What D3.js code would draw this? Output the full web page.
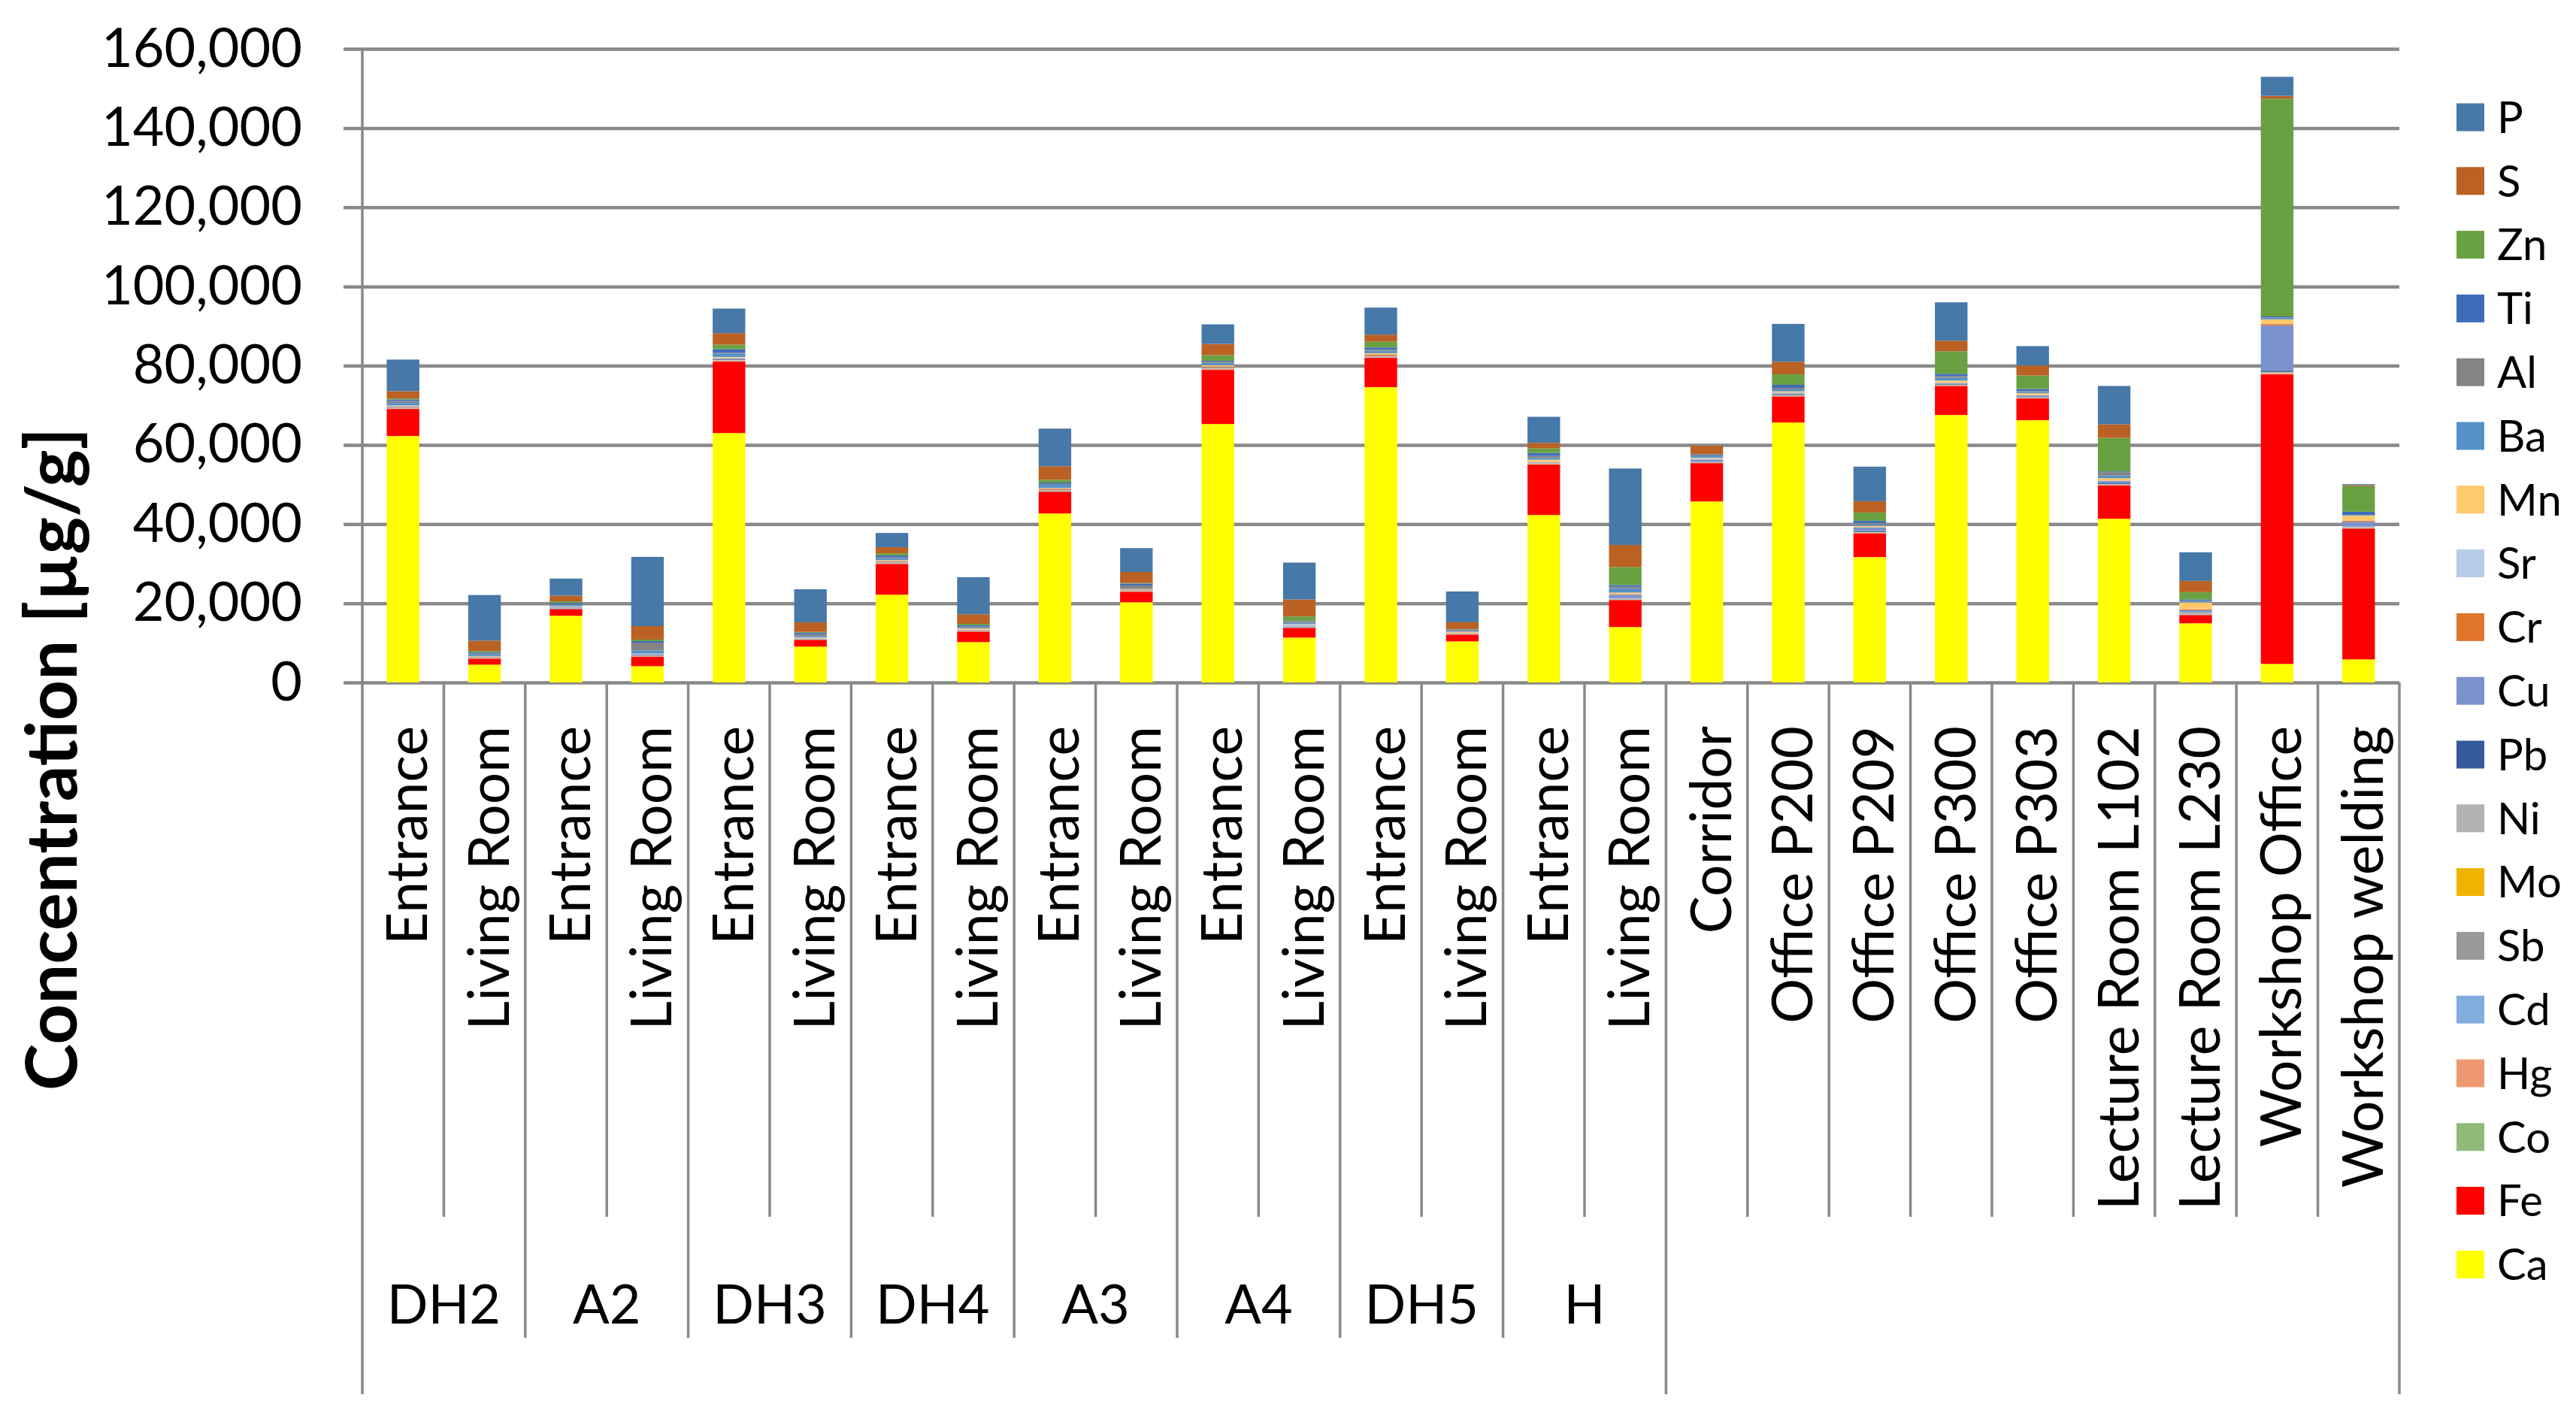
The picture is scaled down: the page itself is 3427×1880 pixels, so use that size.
<!DOCTYPE html>
<html>
<head>
<meta charset="utf-8">
<script src="https://cdn.jsdelivr.net/npm/d3@7"></script>
<style>
    body { margin: 0; background: #fff; }
    text { font-family: Lato, "Open Sans", sans-serif; fill: #000; }
</style>
</head>
<body>
<svg id="chart" width="3427" height="1880"></svg>
<script>
// sampling sites, in chart order
var sites = ["Entrance", "Living Room", "Entrance", "Living Room", "Entrance", "Living Room",
    "Entrance", "Living Room", "Entrance", "Living Room", "Entrance", "Living Room",
    "Entrance", "Living Room", "Entrance", "Living Room",
    "Corridor", "Office P200", "Office P209", "Office P300", "Office P303",
    "Lecture Room L102", "Lecture Room L230", "Workshop Office", "Workshop welding"];

// houses, each covers two sites (Entrance + Living Room)
var houses = ["DH2", "A2", "DH3", "DH4", "A3", "A4", "DH5", "H"];

var yTicks = [0, 20000, 40000, 60000, 80000, 100000, 120000, 140000, 160000];

// element concentrations [µg/g], one value per site
var Ca = [62220, 4494, 16838, 4115, 62984, 9052, 22155, 10191, 42664, 20256, 65262, 11331, 74567, 10381, 42284, 13989, 45703, 65642, 31650, 67541, 66212, 41335, 14939, 4684, 5824];
var Fe = [6840, 1520, 1709, 2405, 18040, 1709, 7786, 2659, 5507, 2659, 13673, 2469, 7407, 1709, 12724, 6837, 9685, 6583, 6014, 7343, 5507, 8419, 2089, 73112, 33042];
var Co = [60, 40, 40, 40, 80, 40, 60, 40, 60, 40, 60, 40, 60, 40, 60, 60, 60, 60, 60, 60, 60, 60, 60, 80, 60];
var Hg = [120, 60, 40, 60, 100, 40, 100, 120, 100, 60, 200, 60, 100, 60, 250, 60, 60, 80, 60, 80, 60, 80, 80, 253, 60];
var Cd = [40, 40, 150, 60, 60, 40, 60, 40, 60, 40, 60, 150, 60, 40, 60, 100, 60, 60, 60, 60, 60, 60, 100, 60, 60];
var Sb = [40, 40, 40, 60, 60, 40, 40, 40, 40, 40, 60, 40, 40, 40, 40, 80, 40, 40, 40, 40, 40, 40, 150, 100, 40];
var Mo = [20, 20, 20, 20, 40, 20, 40, 20, 40, 20, 40, 20, 40, 20, 40, 40, 40, 40, 40, 40, 40, 40, 40, 60, 40];
var Ni = [40, 40, 40, 40, 60, 40, 40, 40, 40, 40, 60, 40, 40, 40, 40, 80, 60, 60, 60, 60, 60, 60, 250, 60, 253];
var Pb = [40, 40, 40, 150, 150, 40, 40, 40, 40, 40, 60, 40, 40, 40, 40, 60, 60, 200, 253, 150, 60, 316, 60, 316, 60];
var Cu = [100, 100, 150, 150, 150, 60, 150, 60, 150, 60, 100, 100, 100, 60, 100, 823, 506, 200, 886, 160, 380, 443, 443, 11394, 1139];
var Cr = [180, 150, 60, 60, 100, 60, 200, 60, 250, 190, 150, 60, 380, 60, 60, 190, 60, 100, 60, 100, 60, 80, 253, 380, 253];
var Sr = [190, 60, 60, 60, 200, 190, 60, 60, 100, 60, 60, 316, 60, 40, 60, 60, 316, 200, 60, 100, 60, 80, 60, 60, 60];
var Mn = [60, 60, 60, 60, 180, 60, 180, 253, 100, 60, 316, 60, 253, 253, 506, 316, 100, 250, 316, 506, 443, 570, 1709, 1139, 1203];
var Ba = [633, 500, 300, 820, 886, 300, 443, 200, 950, 100, 633, 316, 633, 100, 443, 1076, 443, 506, 380, 760, 300, 696, 316, 380, 100];
var Al = [506, 250, 250, 1962, 190, 506, 200, 300, 200, 823, 316, 443, 316, 316, 506, 380, 100, 380, 316, 380, 200, 823, 100, 100, 100];
var Ti = [380, 250, 300, 380, 886, 380, 506, 300, 190, 506, 200, 100, 506, 190, 760, 443, 253, 760, 570, 570, 560, 190, 316, 253, 823];
var Zn = [253, 300, 380, 380, 1139, 190, 570, 380, 696, 127, 1393, 1076, 1456, 100, 1139, 4558, 100, 2659, 2089, 5697, 3418, 8482, 1836, 55000, 6457];
var S  = [1836, 2595, 1456, 3418, 2912, 2405, 1519, 2405, 3418, 2785, 2849, 4304, 1772, 1709, 1393, 5570, 2089, 3165, 2849, 2659, 2532, 3418, 2849, 696, 253];
var P  = [7976, 11520, 4304, 17470, 6203, 8356, 3608, 9368, 9495, 6014, 4937, 9305, 6836, 7786, 6583, 19307, 0, 9558, 8735, 9685, 4874, 9685, 7216, 4809, 253];

// stacking order, bottom to top
var elements = ["Ca", "Fe", "Co", "Hg", "Cd", "Sb", "Mo", "Ni", "Pb", "Cu", "Cr", "Sr", "Mn", "Ba", "Al", "Ti", "Zn", "S", "P"];
var series = {Ca: Ca, Fe: Fe, Co: Co, Hg: Hg, Cd: Cd, Sb: Sb, Mo: Mo, Ni: Ni, Pb: Pb, Cu: Cu,
    Cr: Cr, Sr: Sr, Mn: Mn, Ba: Ba, Al: Al, Ti: Ti, Zn: Zn, S: S, P: P};

var color = d3.scaleOrdinal()
    .domain(elements)
    .range(["#FFFF00", "#FF0000", "#90BA7A", "#EF9972", "#80ADDD", "#999999", "#F0B400", "#B3B3B3", "#345A9B",
        "#7A92CE", "#DF742B", "#B7CCE8", "#FFC96C", "#5591C8", "#848484", "#3F6CBA", "#69A142", "#BA6123", "#4678A8"]);

var table = sites.map(function(s, i) {
    var row = {site: i};
    elements.forEach(function(el) { row[el] = series[el][i]; });
    return row;
});

var plotLeft = 482, plotRight = 3192, plotTop = 65, plotZero = 908;
var gray = "#898989";

var svg = d3.select("#chart");

var x = d3.scaleBand()
    .domain(d3.range(sites.length))
    .range([plotLeft, plotRight])
    .paddingInner(0.6)
    .paddingOuter(0.3);

// same bands without padding, for the category separators
var xCell = d3.scaleBand()
    .domain(d3.range(sites.length))
    .range([plotLeft, plotRight]);

var y = d3.scaleLinear()
    .domain([0, 160000])
    .range([plotZero, plotTop]);

// gridlines + tick labels
var yAxis = svg.append("g")
    .attr("transform", "translate(" + plotRight + ",0)")
    .call(d3.axisLeft(y)
        .tickValues(yTicks)
        .tickFormat(d3.format(","))
        .tickSize(plotRight - plotLeft + 25)
        .tickPadding(55));

yAxis.select(".domain").remove();
yAxis.selectAll(".tick line").attr("stroke", gray).attr("stroke-width", 4.5);
yAxis.selectAll(".tick text")
    .style("font-size", "72px")
    .style("font-family", "Lato, sans-serif")
    .attr("fill", "#000");

// stacked bars
var stack = d3.stack().keys(elements)(table);

svg.append("g").selectAll("g")
    .data(stack)
    .enter()
    .append("g")
    .attr("fill", function(d) { return color(d.key); })
    .selectAll("rect")
    .data(function(d) { return d; })
    .enter()
    .append("rect")
    .attr("x", function(d) { return x(d.data.site); })
    .attr("width", x.bandwidth())
    .attr("y", function(d) { return y(d[1]); })
    .attr("height", function(d) { return Math.max(0, y(d[0]) - y(d[1])); });

// vertical axis line
svg.append("line")
    .attr("x1", plotLeft).attr("x2", plotLeft)
    .attr("y1", plotTop).attr("y2", 1855)
    .attr("stroke", gray).attr("stroke-width", 3.5);

// category separators: short inside a house, longer between houses
var seps = d3.range(1, sites.length + 1);
svg.append("g").selectAll("line")
    .data(seps)
    .enter()
    .append("line")
    .attr("x1", function(i) { return i < sites.length ? xCell(i) : plotRight; })
    .attr("x2", function(i) { return i < sites.length ? xCell(i) : plotRight; })
    .attr("y1", plotZero)
    .attr("y2", function(i) {
        if (i === 16 || i === sites.length) return 1855;
        if (i < 16 && i % 2 === 0) return 1780;
        return 1619;
    })
    .attr("stroke", gray).attr("stroke-width", 3.5);

// site labels
svg.append("g").selectAll("text")
    .data(sites)
    .enter()
    .append("text")
    .attr("transform", function(d, i) {
        return "translate(" + (xCell(i) + xCell.bandwidth() / 2 + 5) + ",966) rotate(-90)";
    })
    .attr("text-anchor", "end")
    .attr("dy", "0.36em")
    .style("font-size", "75px")
    .text(function(d) { return d; });

// house labels
svg.append("g").selectAll("text")
    .data(houses)
    .enter()
    .append("text")
    .attr("x", function(d, i) { return xCell(i * 2) + xCell.bandwidth(); })
    .attr("y", 1735)
    .attr("dy", "0.36em")
    .attr("text-anchor", "middle")
    .style("font-size", "72px")
    .text(function(d) { return d; });

// y title
svg.append("text")
    .attr("transform", "translate(68,1010) rotate(-90)")
    .attr("text-anchor", "middle")
    .attr("dy", "0.36em")
    .style("font-size", "94px")
    .style("font-weight", "bold")
    .text("Concentration [µg/g]");

// legend, top series first
var legend = svg.append("g").selectAll("g")
    .data(elements.slice().reverse())
    .enter()
    .append("g")
    .attr("transform", function(d, i) { return "translate(3268," + (156 + i * 84.8) + ")"; });

legend.append("rect")
    .attr("x", 0).attr("y", -18.5)
    .attr("width", 37).attr("height", 37)
    .attr("fill", function(d) { return color(d); });

legend.append("text")
    .attr("x", 54)
    .attr("dy", "0.36em")
    .style("font-size", "58px")
    .text(function(d) { return d; });
</script>
</body>
</html>
